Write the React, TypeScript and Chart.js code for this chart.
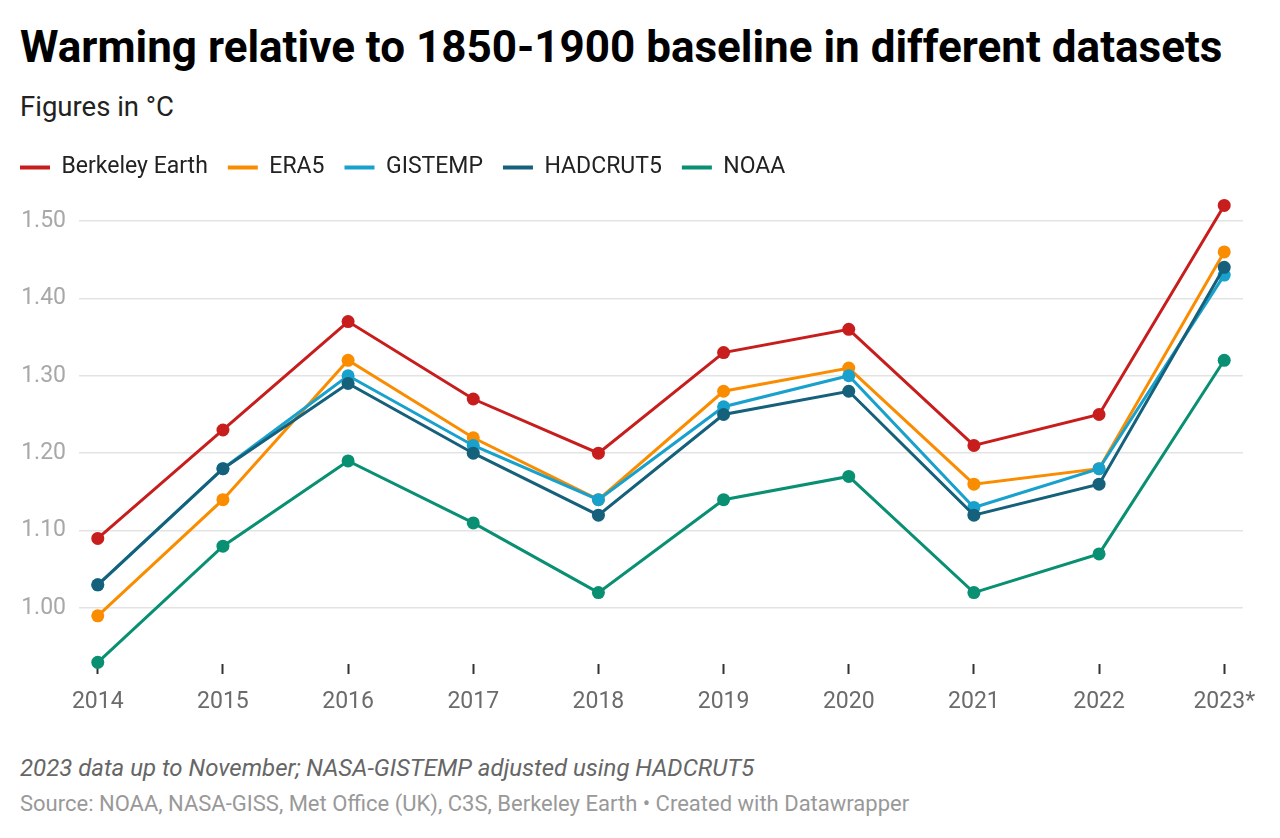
import React, { useEffect, useRef } from "react";
import { Chart, registerables } from "chart.js";

Chart.register(...registerables);

const years = ["2014", "2015", "2016", "2017", "2018", "2019", "2020", "2021", "2022", "2023*"];
const berkeley = [1.09, 1.23, 1.37, 1.27, 1.2, 1.33, 1.36, 1.21, 1.25, 1.52];
const era5 = [0.99, 1.14, 1.32, 1.22, 1.14, 1.28, 1.31, 1.16, 1.18, 1.46];
const gistemp = [1.03, 1.18, 1.3, 1.21, 1.14, 1.26, 1.3, 1.13, 1.18, 1.43];
const hadcrut5 = [1.03, 1.18, 1.29, 1.2, 1.12, 1.25, 1.28, 1.12, 1.16, 1.44];
const noaa = [0.93, 1.08, 1.19, 1.11, 1.02, 1.14, 1.17, 1.02, 1.07, 1.32];
const yTicks = [1.0, 1.1, 1.2, 1.3, 1.4, 1.5];

const seriesNames = ["Berkeley Earth", "ERA5", "GISTEMP", "HADCRUT5", "NOAA"];
const seriesValues = [berkeley, era5, gistemp, hadcrut5, noaa];
const seriesColors = ["#c71e1d", "#fa8c00", "#18a1cd", "#15607a", "#098f72"];

const FONT = "Roboto, 'Noto Sans', sans-serif";

export default function App() {
  const ref = useRef<HTMLCanvasElement | null>(null);

  useEffect(() => {
    document.body.style.margin = "0";
    const canvas = ref.current;
    if (!canvas) return;
    const chart = new Chart(canvas, {
      type: "line",
      data: {
        datasets: seriesNames.map((name, i) => ({
          label: name,
          data: seriesValues[i].map((v, j) => ({ x: j, y: v })),
          order: seriesNames.length - i,
          borderColor: seriesColors[i],
          backgroundColor: seriesColors[i],
          pointBackgroundColor: seriesColors[i],
          pointBorderColor: seriesColors[i],
          borderWidth: 3,
          pointRadius: 6.5,
          pointBorderWidth: 0,
          pointHoverRadius: 6.5,
          tension: 0,
          clip: false,
        })),
      },
      options: {
        animation: false,
        responsive: false,
        maintainAspectRatio: false,
        events: [],
        layout: { padding: { left: 0, right: 37, top: 0, bottom: 0 } },
        plugins: {
          tooltip: { enabled: false },
          title: { display: false },
          legend: {
            display: true,
            position: "top",
            align: "start",
            labels: {
              boxWidth: 30,
              boxHeight: 4,
              padding: 20,
              color: "#222",
              font: { family: FONT, size: 23 },
              useBorderRadius: true,
              borderRadius: 2,
              generateLabels: (ch: any) =>
                ch.data.datasets.map((ds: any, i: number) => ({
                  text: ds.label,
                  fillStyle: ds.borderColor,
                  strokeStyle: ds.borderColor,
                  lineWidth: 0,
                  hidden: false,
                  datasetIndex: i,
                  fontColor: "#222",
                })),
            },
          },
        },
        scales: {
          x: {
            type: "linear",
            min: -0.15,
            max: 9.15,
            afterBuildTicks: (axis: any) => {
              axis.ticks = years.map((_, i) => ({ value: i }));
            },
            afterFit: (axis: any) => {
              axis.height = 56;
            },
            border: { display: false },
            grid: {
              display: true,
              drawOnChartArea: false,
              drawTicks: true,
              tickLength: 10,
              tickColor: "#333",
              tickWidth: 2,
            },
            ticks: {
              autoSkip: false,
              maxRotation: 0,
              padding: 14,
              color: "#6b6b6b",
              font: { family: FONT, size: 23 },
              callback: (v: any) => years[Math.round(Number(v))] ?? "",
            },
          },
          y: {
            type: "linear",
            min: 0.9278,
            max: 1.5412,
            afterBuildTicks: (axis: any) => {
              axis.ticks = yTicks.map((v) => ({ value: v }));
            },
            afterFit: (axis: any) => {
              axis.width = 79;
            },
            border: { display: false },
            grid: {
              color: "#e3e3e3",
              lineWidth: 1.5,
              drawTicks: false,
            },
            ticks: {
              crossAlign: "near",
              padding: 13,
              color: "#a8a8a8",
              font: { family: FONT, size: 23 },
              callback: (v: any) => Number(v).toFixed(2),
            },
          },
        },
      },
    });
    return () => chart.destroy();
  }, []);

  return (
    <div
      style={{
        position: "absolute",
        left: 0,
        top: 0,
        width: 1280,
        height: 838,
        background: "#fff",
        fontFamily: FONT,
        overflow: "hidden",
      }}
    >
      <div
        style={{
          position: "absolute",
          left: 20,
          top: 25,
          fontSize: 44,
          lineHeight: "44px",
          fontWeight: 700,
          color: "#000",
          whiteSpace: "nowrap",
        }}
      >
        Warming relative to 1850-1900 baseline in different datasets
      </div>
      <div
        style={{
          position: "absolute",
          left: 20,
          top: 93,
          fontSize: 27.5,
          lineHeight: "27.5px",
          color: "#222",
          whiteSpace: "nowrap",
        }}
      >
        Figures in °C
      </div>
      <canvas
        ref={ref}
        width={1280}
        height={584}
        style={{ position: "absolute", left: 0, top: 136, width: 1280, height: 584 }}
      />
      <div
        style={{
          position: "absolute",
          left: 20,
          top: 756,
          fontSize: 24,
          lineHeight: "24px",
          fontStyle: "italic",
          color: "#666",
          whiteSpace: "nowrap",
        }}
      >
        2023 data up to November; NASA-GISTEMP adjusted using HADCRUT5
      </div>
      <div
        style={{
          position: "absolute",
          left: 20,
          top: 793,
          fontSize: 22,
          lineHeight: "22px",
          color: "#999",
          whiteSpace: "nowrap",
        }}
      >
        Source: NOAA, NASA-GISS, Met Office (UK), C3S, Berkeley Earth • Created with Datawrapper
      </div>
    </div>
  );
}
